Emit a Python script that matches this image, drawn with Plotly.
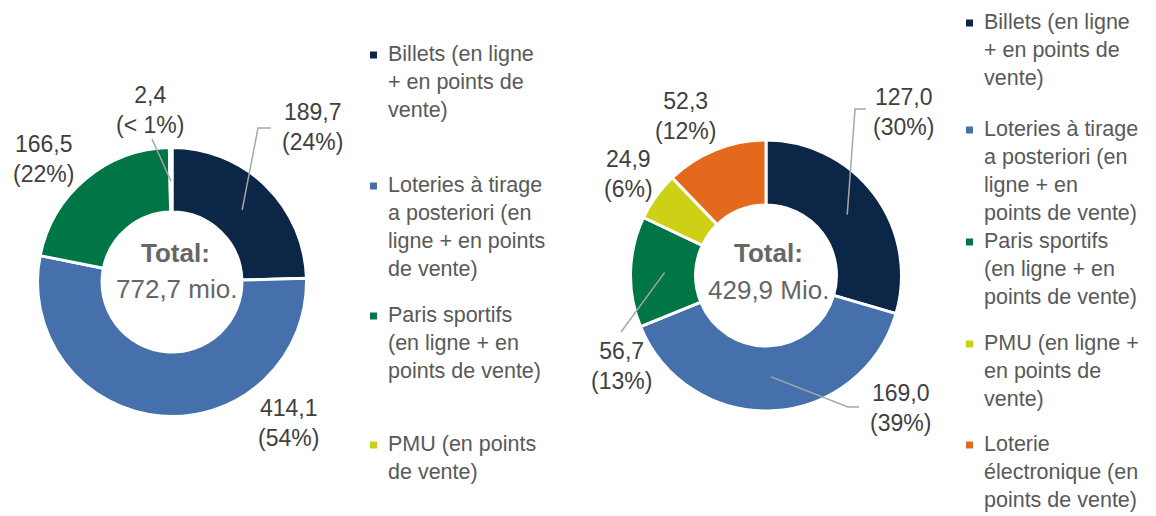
import math
import plotly.graph_objects as go

W, H = 1156, 516
FONT = "Arial, 'Liberation Sans', sans-serif"

# ---------------- data ----------------
categories_left = [
    "Billets (en ligne + en points de vente)",
    "Loteries à tirage a posteriori (en ligne + en points de vente)",
    "Paris sportifs (en ligne + en points de vente)",
    "PMU (en points de vente)",
]
values_left = [189.7, 414.1, 166.5, 2.4]
pct_left = ["24%", "54%", "22%", "< 1%"]
total_left = "772,7 mio."
legend_left = [
    "Billets (en ligne<br>+ en points de<br>vente)",
    "Loteries à tirage<br>a posteriori (en<br>ligne + en points<br>de vente)",
    "Paris sportifs<br>(en ligne + en<br>points de vente)",
    "PMU (en points<br>de vente)",
]
colors_left = ["#0b2647", "#4670ab", "#007546", "#cdd116"]

categories_right = [
    "Billets (en ligne + en points de vente)",
    "Loteries à tirage a posteriori (en ligne + en points de vente)",
    "Paris sportifs (en ligne + en points de vente)",
    "PMU (en ligne + en points de vente)",
    "Loterie électronique (en points de vente)",
]
values_right = [127.0, 169.0, 56.7, 24.9, 52.3]
pct_right = ["30%", "39%", "13%", "6%", "12%"]
total_right = "429,9 Mio."
legend_right = [
    "Billets (en ligne<br>+ en points de<br>vente)",
    "Loteries à tirage<br>a posteriori (en<br>ligne + en<br>points de vente)",
    "Paris sportifs<br>(en ligne + en<br>points de vente)",
    "PMU (en ligne +<br>en points de<br>vente)",
    "Loterie<br>électronique (en<br>points de vente)",
]
colors_right = ["#0b2647", "#4670ab", "#007546", "#cdd116", "#e4691d"]

# ---------------- layout constants (pixels) ----------------
pies = [
    dict(cx=172, cy=282, r=134.5, values=values_left, cats=categories_left, pct=pct_left,
         colors=colors_left, total=total_left, legend=legend_left,
         center_text=[(175, 253), (176, 289)],
         label_pos=[(312, 127), (288, 423), (43.5, 159), (149.5, 110)],
         leader=[[(258, 128), (271, 128)], None, None, [(152, 139)]],
         leg_marker_x=373.5, leg_text_x=386, leg_y=[55, 186, 316, 445]),
    dict(cx=766, cy=275.5, r=135.5, values=values_right, cats=categories_right, pct=pct_right,
         colors=colors_right, total=total_right, legend=legend_right,
         center_text=[(768, 253), (768, 290)],
         label_pos=[(903, 112), (900, 408), (621, 366), (628, 174), (685, 116)],
         leader=[[(855, 109), (866, 109)], [(848, 407), (859, 407)], [(621, 332)], None, None],
         leg_marker_x=969.5, leg_text_x=982, leg_y=[23, 130, 242, 344, 445]),
]

LEG_SIZE = 21.5


def px(x):
    return x / W


def py(y):
    return 1 - y / H


def fmt(v):
    return f"{v:.1f}".replace(".", ",")


fig = go.Figure()
annotations = []
shapes = []

for p in pies:
    fig.add_trace(go.Pie(
        labels=p["cats"], values=p["values"],
        sort=False, direction="clockwise", rotation=0, hole=0.52,
        marker=dict(colors=p["colors"], line=dict(color="white", width=3)),
        textinfo="none", showlegend=False,
        domain=dict(x=[px(p["cx"] - p["r"]), px(p["cx"] + p["r"])],
                    y=[py(p["cy"] + p["r"]), py(p["cy"] - p["r"])]),
    ))

    # center text
    (tx1, ty1), (tx2, ty2) = p["center_text"]
    annotations.append(dict(x=px(tx1), y=py(ty1), xref="paper", yref="paper",
                            xanchor="center", yanchor="middle",
                            text="<b>Total:</b>", showarrow=False,
                            font=dict(family=FONT, size=26, color="#666666")))
    annotations.append(dict(x=px(tx2), y=py(ty2), xref="paper", yref="paper",
                            xanchor="center", yanchor="middle",
                            text=p["total"], showarrow=False,
                            font=dict(family=FONT, size=26, color="#666666")))

    total = sum(p["values"])
    cum = 0.0
    for i, v in enumerate(p["values"]):
        mid = (cum + v / 2) / total * 2 * math.pi
        cum += v
        lx, ly = p["label_pos"][i]
        annotations.append(dict(x=px(lx), y=py(ly), xref="paper", yref="paper",
                                xanchor="center", yanchor="middle",
                                text=f"{fmt(v)}<br>({p['pct'][i]})", showarrow=False,
                                font=dict(family=FONT, size=23, color="#404040")))
        if p["leader"][i]:
            r_mid = p["r"] * (1 + 0.52) / 2 - 1.5
            ax = p["cx"] + r_mid * math.sin(mid)
            ay = p["cy"] - r_mid * math.cos(mid)
            pts = [(ax, ay)] + p["leader"][i]
            path = "M " + " L ".join(f"{px(a):.5f},{py(b):.5f}" for a, b in pts)
            shapes.append(dict(type="path", xref="paper", yref="paper", path=path,
                               line=dict(color="#a6a6a6", width=1.5)))

        # legend entry
        cy = p["leg_y"][i]
        shapes.append(dict(type="rect", xref="paper", yref="paper",
                           x0=px(p["leg_marker_x"] - 3.5), x1=px(p["leg_marker_x"] + 3.5),
                           y0=py(cy + 3.5), y1=py(cy - 3.5),
                           fillcolor=p["colors"][i], line=dict(width=0)))
        annotations.append(dict(x=px(p["leg_text_x"]), y=py(cy - 15), xref="paper", yref="paper",
                                xanchor="left", yanchor="top", align="left",
                                text=p["legend"][i], showarrow=False,
                                font=dict(family=FONT, size=LEG_SIZE, color="#595959")))

fig.update_layout(
    width=W, height=H,
    margin=dict(l=0, r=0, t=0, b=0),
    paper_bgcolor="white", plot_bgcolor="white",
    annotations=annotations, shapes=shapes,
    font=dict(family=FONT),
)

fig.write_html("out.html",
               config={"displayModeBar": False},
               post_script="document.body.style.margin='0';document.body.style.overflow='hidden';")
